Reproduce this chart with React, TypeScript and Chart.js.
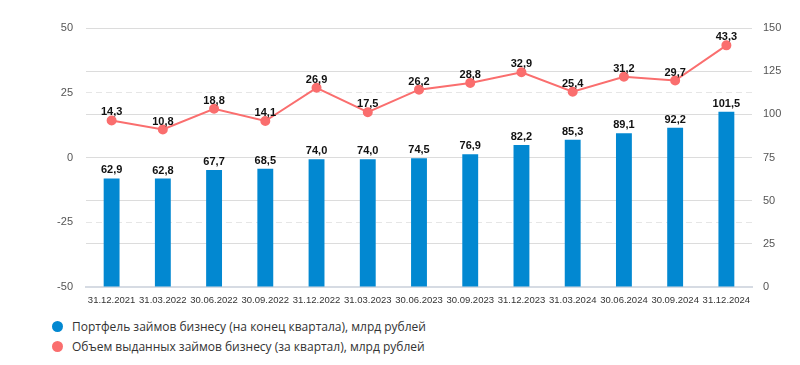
import React, { useEffect, useRef } from "react";
import { Chart, registerables } from "chart.js";

Chart.register(...registerables);

const categories = [
  "31.12.2021", "31.03.2022", "30.06.2022", "30.09.2022", "31.12.2022", "31.03.2023",
  "30.06.2023", "30.09.2023", "31.12.2023", "31.03.2024", "30.06.2024", "30.09.2024", "31.12.2024",
];
const portfolio = [62.9, 62.8, 67.7, 68.5, 74.0, 74.0, 74.5, 76.9, 82.2, 85.3, 89.1, 92.2, 101.5];
const issued = [14.3, 10.8, 18.8, 14.1, 26.9, 17.5, 26.2, 28.8, 32.9, 25.4, 31.2, 29.7, 43.3];
const seriesNames = [
  "Портфель займов бизнесу (на конец квартала), млрд рублей",
  "Объем выданных займов бизнесу (за квартал), млрд рублей",
];
const colors = ["#0288d1", "#fa6e6e"];

const fmt = (v: number) => v.toFixed(1).replace(".", ",");

const labelPlugin = {
  id: "valueLabels",
  afterDatasetsDraw(chart: any) {
    const ctx = chart.ctx;
    ctx.save();
    ctx.font = "bold 11px 'Liberation Sans', Arial, sans-serif";
    ctx.fillStyle = "#111";
    ctx.textAlign = "center";
    ctx.textBaseline = "alphabetic";
    chart.data.datasets.forEach((ds: any, i: number) => {
      const meta = chart.getDatasetMeta(i);
      meta.data.forEach((el: any, j: number) => {
        const v = ds.data[j];
        ctx.fillText(fmt(v), el.x, el.y - 5);
      });
    });
    ctx.restore();
  },
};

export default function App() {
  const ref = useRef<HTMLCanvasElement>(null);
  useEffect(() => {
    if (!ref.current) return;
    const chart = new Chart(ref.current, {
      type: "bar",
      data: {
        labels: categories,
        datasets: [
          {
            type: "line",
            label: seriesNames[1],
            data: issued,
            yAxisID: "yL",
            borderColor: colors[1],
            backgroundColor: colors[1],
            borderWidth: 2,
            pointRadius: 4,
            pointHoverRadius: 4,
            pointBackgroundColor: colors[1],
            pointBorderColor: colors[1],
            tension: 0,
            order: 0,
          } as any,
          {
            type: "bar",
            label: seriesNames[0],
            data: portfolio,
            yAxisID: "yR",
            backgroundColor: colors[0],
            barPercentage: 0.62,
            categoryPercentage: 0.5,
            order: 1,
          },
        ],
      },
      options: {
        animation: false,
        responsive: false,
        layout: { padding: { top: 28, left: 0, right: 0, bottom: 0 } },
        plugins: { legend: { display: false }, tooltip: { enabled: false } },
        scales: {
          x: {
            grid: { display: false, drawTicks: false },
            border: { display: true, color: "#d6dbe3", width: 2 },
            ticks: {
              color: "#333",
              font: { size: 9.5, family: "'Liberation Sans', Arial, sans-serif" },
              padding: 8,
              maxRotation: 0,
              autoSkip: false,
            },
            afterFit: (s: any) => { s.height = 23; },
          },
          yL: {
            position: "left",
            min: -50,
            max: 50,
            ticks: {
              stepSize: 25,
              color: "#555",
              padding: 13,
              font: { size: 11, family: "'Liberation Sans', Arial, sans-serif" },
            },
            grid: { color: "#e6e6e6", drawTicks: false, lineWidth: 1 },
            border: { display: false, dash: [6, 4] },
            afterFit: (s: any) => { s.width = 86; },
          },
          yR: {
            position: "right",
            min: 0,
            max: 150,
            ticks: {
              stepSize: 25,
              color: "#555",
              padding: 11,
              font: { size: 11, family: "'Liberation Sans', Arial, sans-serif" },
            },
            grid: { color: "#dcdcdc", drawTicks: false, lineWidth: 1 },
            border: { display: false },
            afterFit: (s: any) => { s.width = 48; },
          },
        },
      },
      plugins: [labelPlugin],
    });
    return () => chart.destroy();
  }, []);

  const legendItem = (name: string, color: string) => (
    <div style={{ display: "flex", alignItems: "center", height: 20 }}>
      <span
        style={{
          display: "inline-block",
          width: 11,
          height: 11,
          borderRadius: 6,
          background: color,
          marginLeft: 52,
          marginRight: 9,
        }}
      />
      <span style={{ fontSize: 12, color: "#333", fontFamily: "'Open Sans', sans-serif" }}>{name}</span>
    </div>
  );

  return (
    <div style={{ position: "fixed", left: 0, top: 0, width: 800, height: 365, background: "#fff" }}>
      <canvas ref={ref} width={800} height={310} style={{ display: "block" }} />
      <div style={{ position: "absolute", left: 0, top: 316 }}>
        {legendItem(seriesNames[0], colors[0])}
        {legendItem(seriesNames[1], colors[1])}
      </div>
    </div>
  );
}
